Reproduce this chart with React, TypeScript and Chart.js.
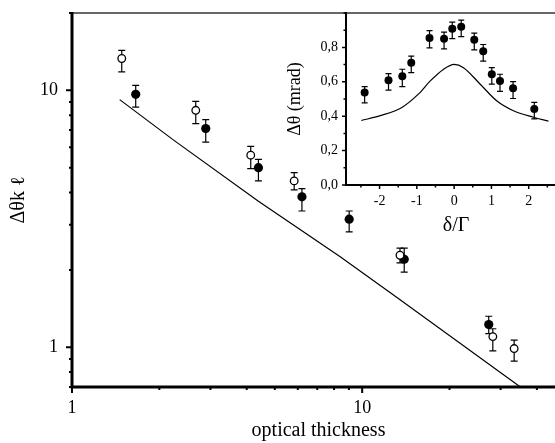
import React, { useEffect, useRef } from "react";
import { Chart, registerables } from "chart.js";

Chart.register(...registerables);

const FONT = "'Liberation Serif', 'Times New Roman', serif";

// ---------- main chart data ----------
const openX = [1.484, 2.67, 4.13, 5.83, 13.5, 28.2, 33.4];
const openY = [13.3, 8.36, 5.59, 4.44, 2.28, 1.1, 0.988];
const openHi = [14.3, 9.06, 6.05, 4.78, 2.43, 1.18, 1.065];
const openLo = [11.8, 7.42, 4.96, 4.1, 2.13, 0.967, 0.882];

const fillX = [1.658, 2.89, 4.39, 6.2, 9.02, 13.96, 27.3];
const fillY = [9.65, 7.1, 5.0, 3.85, 3.15, 2.2, 1.225];
const fillHi = [10.46, 7.69, 5.39, 4.14, 3.39, 2.43, 1.32];
const fillLo = [8.61, 6.29, 4.44, 3.39, 2.81, 1.96, 1.13];

const theoryX = [1.46, 2.24, 4.39, 8.4, 13, 35.1];
const theoryY = [9.2, 6.4, 3.7, 2.25, 1.58, 0.7];

const mainXTicks = [1, 2, 3, 4, 5, 6, 7, 8, 9, 10, 20, 30, 40, 50];
const mainXLabeled = [1, 10];
const mainYTicks = [0.7, 0.8, 0.9, 1, 2, 3, 4, 5, 6, 7, 8, 9, 10, 20];
const mainYLabeled = [1, 10];

// ---------- inset data ----------
const insetX = [-2.4, -1.76, -1.39, -1.15, -0.66, -0.27, -0.05, 0.19, 0.54, 0.78, 1.01, 1.23, 1.58, 2.15];
const insetY = [0.538, 0.609, 0.632, 0.711, 0.855, 0.851, 0.909, 0.92, 0.845, 0.778, 0.644, 0.605, 0.563, 0.442];
const insetHi = [0.572, 0.647, 0.673, 0.749, 0.897, 0.889, 0.947, 0.958, 0.883, 0.817, 0.682, 0.644, 0.601, 0.48];
const insetLo = [0.477, 0.552, 0.572, 0.653, 0.797, 0.791, 0.851, 0.863, 0.786, 0.72, 0.586, 0.544, 0.503, 0.384];

const curveX = [-2.49, -1.98, -1.4, -0.96, -0.64, -0.29, 0, 0.25, 0.7, 1.14, 1.59, 2.13, 2.53];
const curveY = [0.375, 0.403, 0.451, 0.528, 0.605, 0.672, 0.701, 0.682, 0.586, 0.49, 0.432, 0.394, 0.371];

const insetXTicks = [-2.5, -2, -1.5, -1, -0.5, 0, 0.5, 1, 1.5, 2, 2.5];
const insetXLabeled = [-2, -1, 0, 1, 2];
const insetYTicks = [0, 0.1, 0.2, 0.3, 0.4, 0.5, 0.6, 0.7, 0.8, 0.9, 1.0];
const insetYLabeled = [0, 0.2, 0.4, 0.6, 0.8];

type ErrSet = { xs: number[]; lo: number[]; hi: number[] };

function errorPlugin(sets: ErrSet[], cap: number, width: number) {
  return {
    id: "errbars",
    beforeDatasetsDraw(chart: any) {
      const { ctx } = chart;
      const sx = chart.scales.x;
      const sy = chart.scales.y;
      ctx.save();
      ctx.strokeStyle = "#000";
      ctx.lineWidth = width;
      for (const s of sets) {
        s.xs.forEach((x, i) => {
          const px = sx.getPixelForValue(x);
          const pt = sy.getPixelForValue(s.hi[i]);
          const pb = sy.getPixelForValue(s.lo[i]);
          ctx.beginPath();
          ctx.moveTo(px, pt);
          ctx.lineTo(px, pb);
          ctx.moveTo(px - cap, pt);
          ctx.lineTo(px + cap, pt);
          ctx.moveTo(px - cap, pb);
          ctx.lineTo(px + cap, pb);
          ctx.stroke();
        });
      }
      ctx.restore();
    },
  };
}

function framePlugin(o: {
  topColor: string;
  topWidth: number;
  axisWidth: number;
  tickWidth: number;
  major: number;
  minor: number;
}) {
  return {
    id: "frame",
    afterDraw(chart: any) {
      const { ctx, chartArea } = chart;
      const { left, right, top, bottom } = chartArea;
      const sx = chart.scales.x;
      const sy = chart.scales.y;
      ctx.save();
      ctx.strokeStyle = o.topColor;
      ctx.lineWidth = o.topWidth;
      ctx.beginPath();
      ctx.moveTo(left, top);
      ctx.lineTo(right + 20, top);
      ctx.stroke();
      ctx.strokeStyle = "#000";
      ctx.lineWidth = o.axisWidth;
      ctx.beginPath();
      ctx.moveTo(left, top - 1);
      ctx.lineTo(left, bottom);
      ctx.lineTo(right + 20, bottom);
      ctx.stroke();
      ctx.lineWidth = o.tickWidth;
      ctx.beginPath();
      for (const t of sx.ticks) {
        const p = sx.getPixelForValue(t.value);
        const len = t.label !== "" ? o.major : o.minor;
        ctx.moveTo(p, bottom);
        ctx.lineTo(p, bottom + len);
      }
      for (const t of sy.ticks) {
        const p = sy.getPixelForValue(t.value);
        const len = t.label !== "" ? o.major : o.minor;
        ctx.moveTo(left, p);
        ctx.lineTo(left - len, p);
      }
      ctx.stroke();
      ctx.restore();
    },
  };
}

const fitX = (h: number) => (s: any) => {
  s.height = h;
  s.paddingLeft = 0;
  s.paddingRight = 0;
  s.paddingTop = 0;
  s.paddingBottom = 0;
};
const fitY = (w: number) => (s: any) => {
  s.width = w;
  s.paddingLeft = 0;
  s.paddingRight = 0;
  s.paddingTop = 0;
  s.paddingBottom = 0;
};

function MainChart() {
  const ref = useRef<HTMLCanvasElement>(null);
  useEffect(() => {
    const chart = new Chart(ref.current as HTMLCanvasElement, {
      type: "scatter",
      data: {
        datasets: [
          {
            label: "theory",
            data: theoryX.map((x, i) => ({ x, y: theoryY[i] })),
            showLine: true,
            borderColor: "#000",
            borderWidth: 1.2,
            pointRadius: 0,
            tension: 0,
          } as any,
          {
            label: "open",
            data: openX.map((x, i) => ({ x, y: openY[i] })),
            pointStyle: "circle",
            pointRadius: 3.8,
            pointBackgroundColor: "#fff",
            pointBorderColor: "#000",
            pointBorderWidth: 1.3,
          },
          {
            label: "filled",
            data: fillX.map((x, i) => ({ x, y: fillY[i] })),
            pointStyle: "circle",
            pointRadius: 4.6,
            pointBackgroundColor: "#000",
            pointBorderColor: "#000",
            pointBorderWidth: 0,
          },
        ],
      },
      options: {
        responsive: false,
        animation: false,
        events: [],
        layout: { padding: { top: 13, right: 35, left: 0, bottom: 0 } },
        plugins: { legend: { display: false }, tooltip: { enabled: false } },
        scales: {
          x: {
            type: "logarithmic",
            position: "bottom",
            min: 1,
            max: 50,
            afterBuildTicks: (s: any) => {
              s.ticks = mainXTicks.map((v) => ({ value: v }));
            },
            afterFit: fitX(56),
            ticks: {
              autoSkip: false,
              maxRotation: 0,
              minRotation: 0,
              padding: 10,
              color: "#000",
              font: { family: FONT, size: 18 },
              callback: (v: any) => (mainXLabeled.includes(Number(v)) ? String(v) : ""),
            },
            grid: { display: false, drawTicks: false },
            border: { display: false },
            title: {
              display: true,
              text: "optical thickness",
              color: "#000",
              font: { family: FONT, size: 20 },
              padding: 0,
            },
          },
          y: {
            type: "logarithmic",
            position: "left",
            min: 0.7,
            max: 20,
            afterBuildTicks: (s: any) => {
              s.ticks = mainYTicks.map((v) => ({ value: v }));
            },
            afterFit: fitY(72),
            ticks: {
              autoSkip: false,
              padding: 14,
              color: "#000",
              font: { family: FONT, size: 18 },
              callback: (v: any) => (mainYLabeled.includes(Number(v)) ? String(v) : ""),
            },
            grid: { display: false, drawTicks: false },
            border: { display: false },
            title: {
              display: true,
              text: "Δθk ℓ",
              color: "#000",
              font: { family: FONT, size: 20 },
              padding: { top: 7, bottom: 0 },
            },
          },
        },
      } as any,
      plugins: [
        errorPlugin(
          [
            { xs: openX, lo: openLo, hi: openHi },
            { xs: fillX, lo: fillLo, hi: fillHi },
          ],
          3.5,
          1.2
        ),
        framePlugin({ topColor: "#666", topWidth: 2, axisWidth: 3, tickWidth: 2, major: 6, minor: 3 }),
      ],
    });
    return () => chart.destroy();
  }, []);
  return (
    <canvas
      ref={ref}
      width={600}
      height={443}
      style={{ position: "absolute", left: 0, top: 0, width: 600, height: 443 }}
    />
  );
}

function InsetChart() {
  const ref = useRef<HTMLCanvasElement>(null);
  useEffect(() => {
    const chart = new Chart(ref.current as HTMLCanvasElement, {
      type: "scatter",
      data: {
        datasets: [
          {
            label: "theory",
            data: curveX.map((x, i) => ({ x, y: curveY[i] })),
            showLine: true,
            borderColor: "#000",
            borderWidth: 1.2,
            pointRadius: 0,
            cubicInterpolationMode: "monotone",
          } as any,
          {
            label: "data",
            data: insetX.map((x, i) => ({ x, y: insetY[i] })),
            pointStyle: "circle",
            pointRadius: 4,
            pointBackgroundColor: "#000",
            pointBorderColor: "#000",
            pointBorderWidth: 0,
          },
        ],
      },
      options: {
        responsive: false,
        animation: false,
        events: [],
        layout: { padding: { top: 13, right: 14, left: 0, bottom: 0 } },
        plugins: { legend: { display: false }, tooltip: { enabled: false } },
        scales: {
          x: {
            type: "linear",
            position: "bottom",
            min: -2.9,
            max: 3,
            afterBuildTicks: (s: any) => {
              s.ticks = insetXTicks.map((v) => ({ value: v }));
            },
            afterFit: fitX(55),
            ticks: {
              autoSkip: false,
              maxRotation: 0,
              minRotation: 0,
              padding: 8,
              color: "#000",
              font: { family: FONT, size: 14 },
              callback: (v: any) => (insetXLabeled.includes(Number(v)) ? String(v) : ""),
            },
            grid: { display: false, drawTicks: false },
            border: { display: false },
            title: {
              display: true,
              text: "δ/Γ",
              color: "#000",
              font: { family: FONT, size: 20 },
              padding: { top: 0, bottom: 2 },
            },
          },
          y: {
            type: "linear",
            position: "left",
            min: 0,
            max: 1,
            afterBuildTicks: (s: any) => {
              s.ticks = insetYTicks.map((v) => ({ value: v }));
            },
            afterFit: fitY(76),
            ticks: {
              autoSkip: false,
              padding: 8,
              color: "#000",
              font: { family: FONT, size: 14 },
              callback: (v: any) =>
                insetYLabeled.some((l) => Math.abs(l - Number(v)) < 1e-6)
                  ? Number(v).toFixed(1).replace(".", ",")
                  : "",
            },
            grid: { display: false, drawTicks: false },
            border: { display: false },
            title: {
              display: true,
              text: "Δθ (mrad)",
              color: "#000",
              font: { family: FONT, size: 18 },
              padding: { top: 14, bottom: 0 },
            },
          },
        },
      } as any,
      plugins: [
        errorPlugin([{ xs: insetX, lo: insetLo, hi: insetHi }], 3, 1.2),
        framePlugin({ topColor: "#666", topWidth: 2, axisWidth: 2, tickWidth: 1.5, major: 4, minor: 2.5 }),
      ],
    });
    return () => chart.destroy();
  }, []);
  return (
    <canvas
      ref={ref}
      width={310}
      height={240}
      style={{ position: "absolute", left: 270, top: 0, width: 310, height: 240 }}
    />
  );
}

export default function App() {
  return (
    <div
      style={{
        position: "fixed",
        left: 0,
        top: 0,
        width: 555,
        height: 443,
        overflow: "hidden",
        background: "#fff",
      }}
    >
      <MainChart />
      <InsetChart />
    </div>
  );
}
